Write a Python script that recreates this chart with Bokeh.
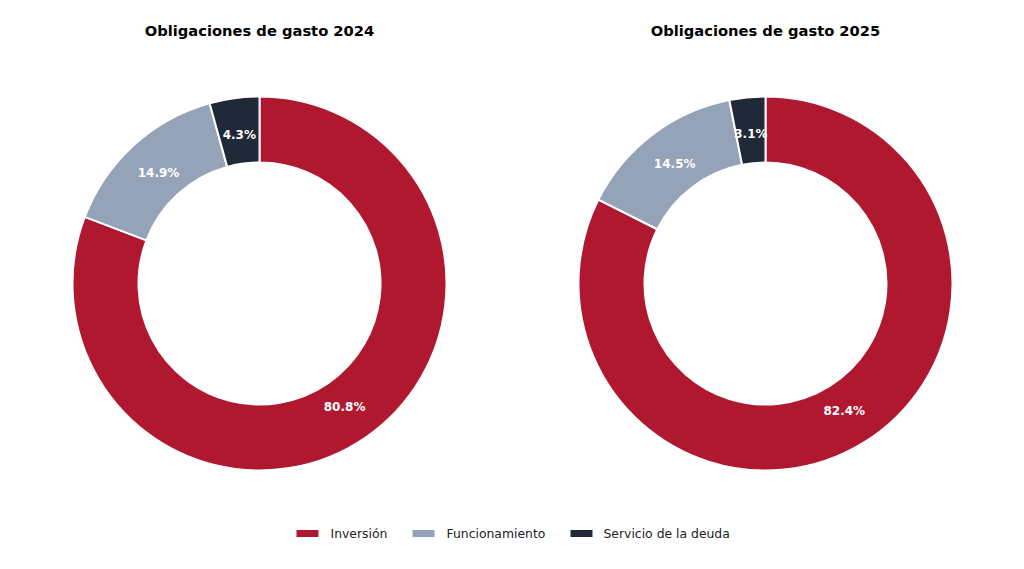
import math
from bokeh.plotting import figure
from bokeh.models import Range1d, ColumnDataSource
from bokeh.core.properties import value
from bokeh.embed import file_html
from bokeh.resources import INLINE

categories = ["Inversión", "Funcionamiento", "Servicio de la deuda"]
values_2024 = [80.8, 14.9, 4.3]
values_2025 = [82.4, 14.5, 3.1]
titles = ["Obligaciones de gasto 2024", "Obligaciones de gasto 2025"]
colors = ["#B01830", "#94A3B8", "#1F2937"]

FONT = "DejaVu Sans"
W, H = 1008, 553
PAGE_H = 569

p = figure(width=W, height=H, output_backend="svg", toolbar_location=None,
           x_range=Range1d(0, W), y_range=Range1d(PAGE_H - H, PAGE_H),
           min_border=0)
p.axis.visible = False
p.grid.visible = False
p.outline_line_color = None

def py(y):
    return PAGE_H - y

centers_x = [259, 765]
cy = py(283)
outer_r, inner_r, label_r = 187, 121, 150

for cx, vals, title in zip(centers_x, [values_2024, values_2025], titles):
    total = sum(vals)
    starts, ends, lx, ly, labels = [], [], [], [], []
    cur = math.pi / 2
    for v in vals:
        frac = v / total
        end = cur
        start = cur - 2 * math.pi * frac
        starts.append(start)
        ends.append(end)
        mid = (start + end) / 2
        lx.append(cx + label_r * math.cos(mid))
        ly.append(cy + label_r * math.sin(mid))
        labels.append(f"{v:.1f}%")
        cur = start
    src = ColumnDataSource(dict(start=starts, end=ends, color=colors, cat=categories))
    p.annular_wedge(x=cx, y=cy, inner_radius=inner_r, outer_radius=outer_r,
                    start_angle="start", end_angle="end", direction="anticlock",
                    fill_color="color", line_color="white", line_width=2, source=src)
    p.text(x=lx, y=ly, text=labels, text_color="white", text_font=value(FONT),
           text_font_style="bold", text_font_size="12px", text_align="center",
           text_baseline="middle")
    p.text(x=[cx], y=[py(30)], text=[title], text_color="black", text_font=value(FONT),
           text_font_style="bold", text_font_size="14.7px", text_align="center",
           text_baseline="middle")

# legend
patch_x = [307, 423, 581]
text_x = [330, 446, 603]
ly = py(533)
p.rect(x=patch_x, y=[ly] * 3, width=22, height=7, fill_color=colors, line_color=None)
p.text(x=text_x, y=[ly] * 3, text=categories, text_color="#222222", text_font=value(FONT),
       text_font_size="12.4px", text_align="left", text_baseline="middle")

open("out.html", "w").write(file_html(p, INLINE))
